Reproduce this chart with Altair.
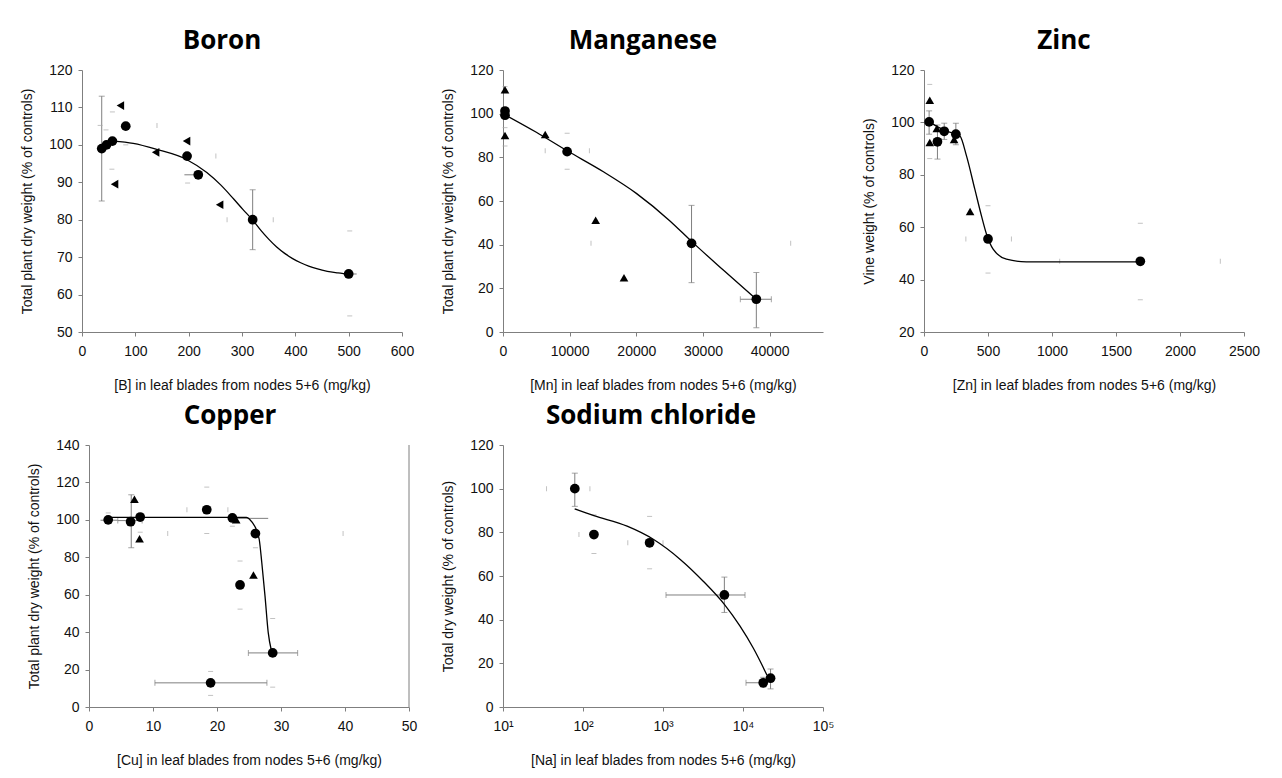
import altair as alt
import pandas as pd

GRAY = "#7f7f7f"
FAINT = "#a8a8a8"

# ---------------- Boron ----------------
b_cx = [37, 46, 57, 82, 197, 218, 320, 500]
b_cy = [99, 100, 101, 105, 97, 92, 80, 65.5]
b_tx = [61, 72, 138, 196, 258]
b_ty = [89.5, 110.5, 98, 101, 84]
b_lx = [58.7, 96, 140, 196, 234, 260, 284, 302, 320, 335, 350, 365, 380, 395, 410, 425, 440, 460, 480, 505]
b_ly = [101.0, 100.4, 98.8, 96.1, 92.6, 89.3, 85.6, 82.7, 79.9, 77.2, 74.8, 72.7, 71.0, 69.6, 68.5, 67.6, 66.9, 66.2, 65.8, 65.4]
b_vb_x = [37, 320]
b_vb_lo = [85, 72]
b_vb_hi = [113, 88]
b_hp_y = [92, 65.5]
b_hp_lo = [192, 490]
b_hp_hi = [222, 515]
b_fh_x = [57, 45, 34, 82, 502, 502, 56, 198]
b_fh_y = [108.8, 104, 105.2, 100, 77, 54.3, 93.5, 89.8]
b_fv_x = [140.6, 251, 272, 358.6]
b_fv_y = [105.2, 97, 80, 80]

# ---------------- Manganese ----------------
m_cx = [300, 300, 9620, 28280, 38000]
m_cy = [101.2, 99.3, 82.6, 40.6, 15]
m_tx = [300, 300, 6330, 13900, 18150]
m_ty = [111, 90, 90.5, 51.2, 24.9]
m_lx = [0, 5000, 9620, 15000, 20000, 25000, 28280, 33000, 38000]
m_ly = [100, 91.5, 83, 73.5, 63.5, 51, 41.5, 28.5, 15]
m_vb_x = [28280, 38000]
m_vb_lo = [22.6, 2]
m_vb_hi = [58, 27.2]
m_hb_y = [15]
m_hb_lo = [35600]
m_hb_hi = [40250]
m_fh_x = [300, 300, 300, 9620, 9620]
m_fh_y = [112.4, 93.6, 85.2, 91, 74.5]
m_fv_x = [6330, 12960, 13200, 43150]
m_fv_y = [83, 83, 40.6, 40.6]

# ---------------- Zinc ----------------
z_cx = [40, 105, 158, 249, 500, 1690]
z_cy = [100.2, 92.6, 96.6, 95.5, 55.5, 47]
z_tx = [45, 45, 100, 235, 360]
z_ty = [108.5, 92.3, 97.7, 93.5, 66]
z_lx = [40, 100, 160, 250, 281, 332, 397, 449, 488, 540, 644, 800, 1690]
z_ly = [100.2, 98.5, 97, 95.5, 94.8, 87.2, 74.5, 64.3, 57.4, 51.6, 47.8, 46.8, 46.8]
z_vb_x = [40, 105, 158, 249]
z_vb_lo = [95.5, 86, 93.5, 91.5]
z_vb_hi = [104.4, 99, 99.7, 99.7]
z_fh_x = [45, 45, 500, 500, 1690, 1690]
z_fh_y = [114.5, 86.2, 42.5, 68.2, 32.3, 61.5]
z_fv_x = [327, 683, 1060, 2315]
z_fv_y = [55.5, 55.5, 47, 47]

# ---------------- Copper ----------------
c_cx = [3, 6.5, 8, 18.4, 22.4, 26, 23.6, 28.7, 19]
c_cy = [100, 99, 101.5, 105.4, 101, 92.7, 65.2, 28.9, 12.9]
c_tx = [7.1, 7.9, 23, 25.7]
c_ty = [111, 89.9, 100, 70.5]
c_lx = [3.3, 24.6, 25.15, 25.9, 26.6, 27.0, 27.5, 28.0, 28.5]
c_ly = [101.3, 101.3, 100.1, 96.6, 89.5, 77.1, 59.4, 39.9, 30.1]
c_vb_x = [6.6]
c_vb_lo = [85.1]
c_vb_hi = [113.4]
c_hb_y = [12.9, 28.9, 99.6]
c_hb_lo = [10.3, 24.9, 4.5]
c_hb_hi = [27.8, 32.6, 8.3]
c_hp_y = [100.8, 99.8]
c_hp_lo = [22.4, 1.8]
c_hp_hi = [28.0, 4.5]
c_fh_x = [18.4, 18.4, 19, 19, 28.7, 28.7, 26, 23.6, 23.6, 22.4, 8, 3]
c_fh_y = [117.5, 92.7, 6.2, 19, 47.3, 10.6, 85.1, 78, 52.3, 96.6, 93.4, 103.7]
c_fv_x = [15.3, 21.7, 12.3, 39.7]
c_fv_y = [105.4, 105.4, 92.7, 92.7]
c_right = [50]

# ---------------- Sodium chloride ----------------
s_cx = [79, 137, 680, 5850, 17900, 22100]
s_cy = [100, 79, 75.2, 51.3, 11.1, 13.2]
s_lx = [78.7, 137, 356, 764, 1644, 3206, 5848, 9183, 13430, 18790, 19950]
s_ly = [90.7, 87.6, 82.8, 76.7, 67.6, 57.5, 47, 37, 27, 16.5, 14.5]
s_vb_x = [79, 5850, 17900, 22100]
s_vb_lo = [91.9, 43.3, 9.1, 8.3]
s_vb_hi = [107.1, 59.5, 13.6, 17.4]
s_hb_y = [51.3, 11.1]
s_hb_lo = [1090, 10900]
s_hb_hi = [10600, 17900]
s_fh_x = [137, 137, 680, 680]
s_fh_y = [88, 70.3, 87.3, 63.3]
s_fv_x = [35, 122, 89, 363, 1000]
s_fv_y = [100, 100, 79, 75.2, 75.2]
s_ticks = [10, 100, 1000, 10000, 100000]
s_tick_labels = ["10\u00b9", "10\u00b2", "10\u00b3", "10\u2074", "10\u2075"]

W, H = 320, 262


def df2(a, b, na="x", nb="y"):
    return pd.DataFrame({na: a, nb: b})


def panel(title, title_dx, xdom, xticks, xtitle, ydom, yticks, ytitle,
          cx, cy, tx=(), ty=(), tshape="triangle-up", lx=(), ly=(),
          vb=None, hb=None, hp=None, fh=None, fv=None, xlog=False,
          rule_x=None, label_expr=None, shift=0):
    sc_kw = dict(domain=xdom, type="log" if xlog else "linear", nice=False, zero=False)
    if shift:
        sc_kw["range"] = [shift, W + shift]
    xscale = alt.Scale(**sc_kw)
    yscale = alt.Scale(domain=ydom, nice=False, zero=False)
    xaxis_kw = dict(values=xticks, title=xtitle, grid=False)
    if shift:
        xaxis_kw["titleX"] = W / 2 + shift
    if label_expr:
        xaxis_kw["labelExpr"] = label_expr
    else:
        xaxis_kw["format"] = "d"
    xaxis = alt.Axis(**xaxis_kw)
    yaxis_kw = dict(values=yticks, title=ytitle, grid=False, format="d")
    if shift:
        yaxis_kw["offset"] = -shift
    yaxis = alt.Axis(**yaxis_kw)

    def X(f):
        return alt.X(f, type="quantitative", scale=xscale, axis=xaxis)

    def Y(f):
        return alt.Y(f, type="quantitative", scale=yscale, axis=yaxis)

    layers = []
    if rule_x is not None:
        layers.append(alt.Chart(pd.DataFrame({"x": rule_x})).mark_rule(color=GRAY, strokeWidth=1)
                      .encode(x=X("x")))
    if vb:
        bx, blo, bhi = vb
        d = pd.DataFrame({"x": bx, "lo": blo, "hi": bhi})
        layers.append(alt.Chart(d).mark_rule(color=GRAY, strokeWidth=1)
                      .encode(x=X("x"), y=Y("lo"), y2="hi"))
        caps = df2(list(bx) * 2, list(blo) + list(bhi))
        layers.append(alt.Chart(caps).mark_tick(orient="horizontal", size=6, thickness=1, color=GRAY)
                      .encode(x=X("x"), y=Y("y")))
    if hb:
        by, blo, bhi = hb
        d = pd.DataFrame({"y": by, "lo": blo, "hi": bhi})
        layers.append(alt.Chart(d).mark_rule(color=GRAY, strokeWidth=1)
                      .encode(y=Y("y"), x=X("lo"), x2="hi"))
        caps = df2(list(blo) + list(bhi), list(by) * 2)
        layers.append(alt.Chart(caps).mark_tick(orient="vertical", size=6, thickness=1, color=GRAY)
                      .encode(x=X("x"), y=Y("y")))
    if hp:
        by, blo, bhi = hp
        d = pd.DataFrame({"y": by, "lo": blo, "hi": bhi})
        layers.append(alt.Chart(d).mark_rule(color=GRAY, strokeWidth=1)
                      .encode(y=Y("y"), x=X("lo"), x2="hi"))
    if fh:
        layers.append(alt.Chart(df2(*fh)).mark_tick(orient="horizontal", size=5, thickness=1, color=FAINT)
                      .encode(x=X("x"), y=Y("y")))
    if fv:
        layers.append(alt.Chart(df2(*fv)).mark_tick(orient="vertical", size=5, thickness=1, color=FAINT)
                      .encode(x=X("x"), y=Y("y")))
    if len(lx):
        layers.append(alt.Chart(df2(lx, ly)).mark_line(color="black", strokeWidth=1.3, interpolate="monotone")
                      .encode(x=X("x"), y=Y("y"), order="x:Q"))
    if len(tx):
        layers.append(alt.Chart(df2(tx, ty)).mark_point(shape=tshape, filled=True, size=75, color="black", opacity=1)
                      .encode(x=X("x"), y=Y("y")))
    layers.append(alt.Chart(df2(cx, cy)).mark_point(shape="circle", filled=True, size=95, color="black", opacity=1)
                  .encode(x=X("x"), y=Y("y")))
    layers.append(alt.Chart(pd.DataFrame({"t": [title]})).mark_text(
        font="Open Sans", fontSize=26, fontWeight="bold", color="black",
        align="center", baseline="alphabetic", dx=title_dx, clip=False,
    ).encode(text="t:N", x=alt.value(W / 2 + shift), y=alt.value(-21)))
    return alt.layer(*layers).properties(width=W, height=H)


boron = panel("Boron", -20, [0, 600], [0, 100, 200, 300, 400, 500, 600],
              "[B] in leaf blades from nodes 5+6 (mg/kg)", [50, 120], list(range(50, 121, 10)),
              "Total plant dry weight (% of controls)",
              b_cx, b_cy, b_tx, b_ty, "triangle-left", b_lx, b_ly,
              vb=(b_vb_x, b_vb_lo, b_vb_hi), hp=(b_hp_y, b_hp_lo, b_hp_hi),
              fh=(b_fh_x, b_fh_y), fv=(b_fv_x, b_fv_y))

mang = panel("Manganese", -20, [0, 48000], [0, 10000, 20000, 30000, 40000],
             "[Mn] in leaf blades from nodes 5+6 (mg/kg)", [0, 120], list(range(0, 121, 20)),
             "Total plant dry weight (% of controls)",
             m_cx, m_cy, m_tx, m_ty, "triangle-up", m_lx, m_ly,
             vb=(m_vb_x, m_vb_lo, m_vb_hi), hb=(m_hb_y, m_hb_lo, m_hb_hi),
             fh=(m_fh_x, m_fh_y), fv=(m_fv_x, m_fv_y))

zinc = panel("Zinc", -20, [0, 2500], [0, 500, 1000, 1500, 2000, 2500],
             "[Zn] in leaf blades from nodes 5+6 (mg/kg)", [20, 120], list(range(20, 121, 20)),
             "Vine weight (% of controls)",
             z_cx, z_cy, z_tx, z_ty, "triangle-up", z_lx, z_ly,
             vb=(z_vb_x, z_vb_lo, z_vb_hi),
             fh=(z_fh_x, z_fh_y), fv=(z_fv_x, z_fv_y))

copper = panel("Copper", -19, [0, 50], [0, 10, 20, 30, 40, 50],
               "[Cu] in leaf blades from nodes 5+6 (mg/kg)", [0, 140], list(range(0, 141, 20)),
               "Total plant dry weight (% of controls)",
               c_cx, c_cy, c_tx, c_ty, "triangle-up", c_lx, c_ly,
               vb=(c_vb_x, c_vb_lo, c_vb_hi), hb=(c_hb_y, c_hb_lo, c_hb_hi),
               hp=(c_hp_y, c_hp_lo, c_hp_hi),
               fh=(c_fh_x, c_fh_y), fv=(c_fv_x, c_fv_y), rule_x=c_right, shift=7)

expr = " : ".join(f"datum.value == {v} ? '{l}'" for v, l in zip(s_ticks, s_tick_labels)) + " : ''"
sodium = panel("Sodium chloride", -12, [10, 100000], s_ticks,
               "[Na] in leaf blades from nodes 5+6 (mg/kg)", [0, 120], list(range(0, 121, 20)),
               "Total dry weight (% of controls)",
               s_cx, s_cy, lx=s_lx, ly=s_ly,
               vb=(s_vb_x, s_vb_lo, s_vb_hi), hb=(s_hb_y, s_hb_lo, s_hb_hi),
               fh=(s_fh_x, s_fh_y), fv=(s_fv_x, s_fv_y), xlog=True, label_expr=expr)

chart = alt.concat(
    boron, mang, zinc, copper, sodium,
    columns=3, spacing=alt.RowColnumber(row=113, column=101), bounds="flush",
).properties(
    padding={"left": 12, "top": 20, "right": 5, "bottom": 5},
    background="white",
).configure_view(stroke=None).configure_axis(
    domainColor=GRAY, tickColor=GRAY, tickSize=4, domainWidth=1, tickWidth=1,
    labelFont="Liberation Sans", labelFontSize=14, labelColor="#111111", labelFlush=False,
    titleFont="Liberation Sans", titleFontSize=14, titleFontWeight="normal", titleColor="#111111",
).configure_axisX(labelPadding=8, titlePadding=20).configure_axisY(labelPadding=6, titlePadding=14)

chart.save("out.html", embed_options={"renderer": "svg", "actions": False})
